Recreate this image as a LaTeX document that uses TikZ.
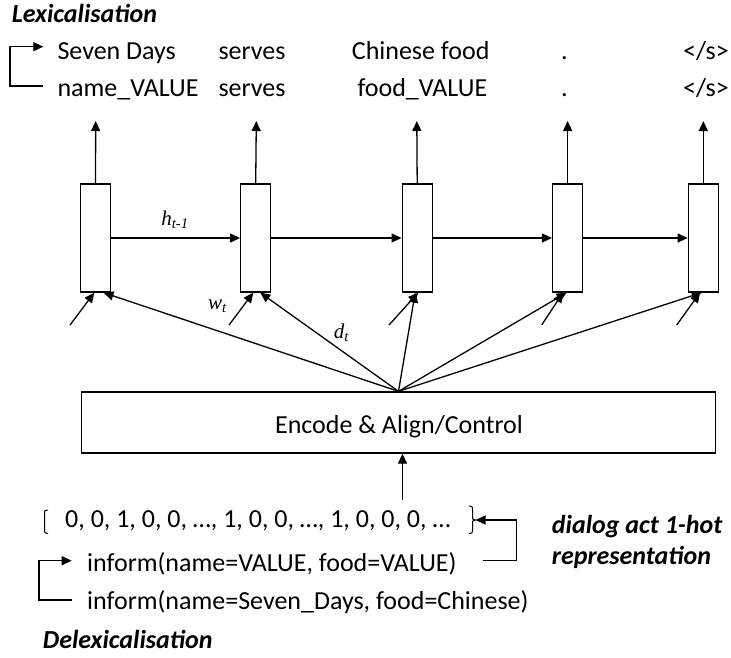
\documentclass[tikz,border=0pt]{standalone}
\usepackage{fontspec}
\setmainfont{Carlito}
\newfontfamily\tnr{Liberation Serif}
\usetikzlibrary{arrows.meta}
\begin{document}
\begin{tikzpicture}[x=1pt,y=-1pt,
  lbl/.style={inner sep=0pt, anchor=base west, font=\fontsize{26}{30}\selectfont},
  head/.style={inner sep=0pt, anchor=base west, font=\fontsize{26}{30}\selectfont\bfseries\itshape},
  cell/.style={draw, line width=1.3pt, minimum width=30pt, minimum height=108pt, inner sep=0pt},
  conn/.style={line width=1.3pt, -{Triangle[length=10pt,width=9pt]}},
  brk/.style={line width=1pt},
  sym/.style={inner sep=0pt, font=\tnr\itshape\fontsize{21}{23}\selectfont}]
\useasboundingbox (0,0) rectangle (731,657);

% lexicalised / delexicalised output words
\node[head] (lex) at (11.7,22.7) {Lexicalisation};
\node[lbl] (r1a) at (57.3,59.5) {Seven Days};
\node[lbl] (r1b) at (218.3,59.5) {serves};
\node[lbl] (r1c) at (351.7,59.5) {Chinese food};
\node[lbl] (r1d) at (561,59.5) {.};
\node[lbl] (r1e) at (683,59.5) {</s>};
\node[lbl] (r2a) at (57.3,96) {name\_VALUE};
\node[lbl] (r2b) at (218.3,96) {serves};
\node[lbl] (r2c) at (357.3,96) {food\_VALUE};
\node[lbl] (r2d) at (561,96) {.};
\node[lbl] (r2e) at (683,96) {</s>};

% bracket arrow from the delexicalised row to the lexicalised row
\coordinate (lx1) at (43.3,86);
\coordinate (lx2) at (10,46.7);
\coordinate (lx3) at (43.3,46.7);
\draw[conn] (lx1) -| (lx2) -- (lx3);

% recurrent cells
\node[cell] (b1) at (95.5,238) {};
\node[cell] (b2) at (255.7,238) {};
\node[cell] (b3) at (417.2,238) {};
\node[cell] (b4) at (567.6,238) {};
\node[cell] (b5) at (703.3,238) {};

\draw[conn] (b1) -- (b2);
\draw[conn] (b2) -- (b3);
\draw[conn] (b3) -- (b4);
\draw[conn] (b4) -- (b5);

% outputs
\foreach \i/\x in {1/95.7,2/256.3,3/416.8,4/567.6,5/703.3}
  \coordinate (o\i) at (\x,121);
\foreach \i in {1,...,5}
  \draw[conn] (b\i.north) -- (o\i);

% word inputs
\coordinate (i1) at (70,325);
\coordinate (i2) at (229,325);
\coordinate (i3) at (389,325);
\coordinate (i4) at (541.7,325);
\coordinate (i5) at (676.7,325);
\draw[conn] (i1) -- ([xshift=-1.2pt]b1.south);
\draw[conn] (i2) -- ([xshift=-2.4pt]b2.south);
\draw[conn] (i3) -- ([xshift=1pt]b3.south);
\draw[conn] (i4) -- ([xshift=-4.6pt]b4.south);
\draw[conn] (i5) -- ([xshift=-3.3pt]b5.south);

% encoder
\node[draw, line width=1.3pt, minimum width=634pt, minimum height=61pt, inner sep=0pt] (enc) at (398.5,422.5) {};
\node[lbl, anchor=base] (enctxt) at (399,433.3) {Encode \& Align/Control};

\draw[conn] (enc.north) -- ([xshift=8pt]b1.south);
\draw[conn] (enc.north) -- ([xshift=4.5pt]b2.south);
\draw[conn] (enc.north) -- ([xshift=-2pt]b3.south);
\draw[conn] (enc.north) -- ([xshift=-1pt]b4.south);
\draw[conn] (enc.north) -- ([xshift=-1.6pt]b5.south);

\node[sym] (hlab) at (175,220) {h\textsubscript{t-1}};
\node[sym] (wlab) at (217.5,306) {w\textsubscript{t}};
\node[sym] (dlab) at (341.5,333) {d\textsubscript{t}};

% dialog act input
\coordinate (vin) at (402.5,500);
\draw[conn] (vin) -- (vin |- enc.south);

\draw[brk] (48,510) .. controls (44.5,510.5) .. (44.5,514) -- (44.5,529.5) .. controls (44.5,533) .. (48,533.5);
\node[lbl] (vec) at (65,527.3) {0, 0, 1, 0, 0, …, 1, 0, 0, …, 1, 0, 0, 0, …};
\coordinate (bt) at (475.5,520);
\draw[brk] (469,506) .. controls (472.5,506.5) .. (472.5,510) -- (472.5,516.5)
  .. controls (472.5,519.5) .. (bt) .. controls (472.5,520.5) .. (472.5,523.5)
  -- (472.5,530) .. controls (472.5,533) .. (469,533.5);

\node[lbl] (inf1) at (87,571.7) {inform(name=VALUE, food=VALUE)};
\node[lbl] (inf2) at (87,609.3) {inform(name=Seven\_Days, food=Chinese)};
\node[head] (delex) at (42.7,648.3) {Delexicalisation};

\coordinate (dl1) at (71.7,600);
\coordinate (dl2) at (39,560.7);
\coordinate (dl3) at (71.7,560.7);
\draw[conn] (dl1) -| (dl2) -- (dl3);

\coordinate (da1) at (482.7,560.7);
\coordinate (da2) at (516.7,520);
\draw[conn] (da1) -| (da2) -- (bt);

\node[head] (dact1) at (551.7,533.3) {dialog act 1-hot};
\node[head] (dact2) at (551.7,564) {representation};
\end{tikzpicture}
\end{document}
